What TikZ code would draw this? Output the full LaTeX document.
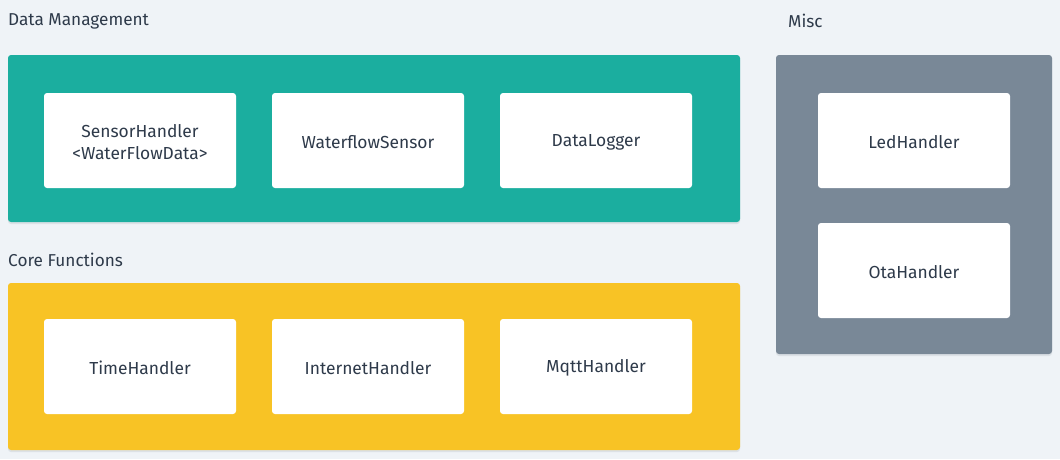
\documentclass[tikz,border=0pt]{standalone}
\usepackage{fontspec}
\setmainfont{Fira Sans}
\definecolor{bgc}{HTML}{EFF3F7}
\definecolor{teal}{HTML}{1BAE9F}
\definecolor{yell}{HTML}{F8C325}
\definecolor{grayc}{HTML}{798897}
\definecolor{txt}{HTML}{2E3A4A}
\definecolor{shad}{HTML}{DCE1E6}
\begin{document}
\begin{tikzpicture}[x=1pt,y=-1pt,
  grp/.style={rounded corners=3pt},
  comp/.style={fill=white,rounded corners=3pt,draw=none,minimum width=192pt,minimum height=95pt,inner sep=0pt,align=center,font=\fontsize{17.4}{21.5}\selectfont,text=txt},
  lbl/.style={anchor=west,inner sep=0pt,font=\fontsize{17.2}{20}\selectfont,text=txt}]
\fill[bgc] (0,0) rectangle (1060,459);
\useasboundingbox (0,0) rectangle (1060,459);
% shadows
\fill[shad,rounded corners=3pt] (8,57) rectangle (740,224);
\fill[shad,rounded corners=3pt] (8,285) rectangle (740,452);
\fill[shad,rounded corners=3pt] (776,57) rectangle (1052,356);
% groups
\fill[teal,grp] (8,55) rectangle (740,222);
\fill[yell,grp] (8,283) rectangle (740,450);
\fill[grayc,grp] (776,55) rectangle (1052,354);
% labels
\node[lbl] (ldm) at (8,21) {Data Management};
\node[lbl] (lcf) at (8,259.5) {Core Functions};
\node[lbl] (lmi) at (788,21) {Misc};
% components
\node[comp] (sh) at (140,140.5) {};
\node[comp] (ws) at (368,140.5) {};
\node[comp] (dl) at (596,140.5) {};
\node[comp] (th) at (140,366.5) {};
\node[comp] (ih) at (368,366.5) {};
\node[comp] (mh) at (596,366.5) {};
\node[comp] (lh) at (914,140.5) {};
\node[comp] (oh) at (914,270.5) {};
\begin{scope}[every node/.style={align=center,font=\fontsize{17.4}{21.5}\selectfont,text=txt}]
\node at ([yshift=-1.5pt]sh.center) {SensorHandler\\\textless WaterFlowData\textgreater};
\node at ([yshift=-1.5pt]ws.center) {WaterflowSensor};
\node at ([yshift=-1.5pt]dl.center) {DataLogger};
\node at ([yshift=-1.5pt]th.center) {TimeHandler};
\node at ([yshift=-1.5pt]ih.center) {InternetHandler};
\node at ([yshift=-1.5pt]mh.center) {MqttHandler};
\node at ([yshift=-1.5pt]lh.center) {LedHandler};
\node at ([yshift=-1.5pt]oh.center) {OtaHandler};
\end{scope}
\end{tikzpicture}
\end{document}
